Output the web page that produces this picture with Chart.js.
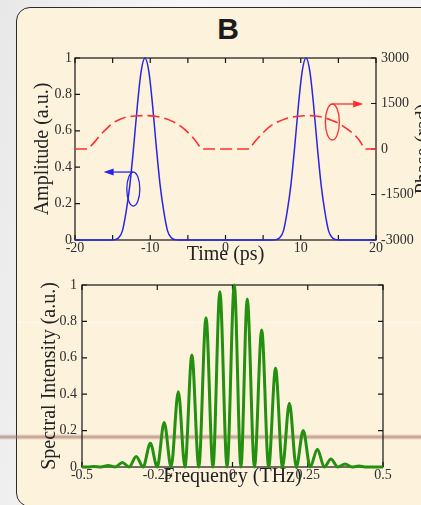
<!DOCTYPE html>
<html>
<head>
<meta charset="utf-8">
<script src="https://cdn.jsdelivr.net/npm/chart.js@4.4.0/dist/chart.umd.min.js"></script>
<style>
  html, body { margin: 0; padding: 0; }
  body { width: 421px; height: 505px; overflow: hidden; position: relative;
    background: linear-gradient(100deg, #e8e8e8 0%, #f6f6f6 35%, #f2f2f2 100%); }
  #panel { position: absolute; left: 16px; top: 7px; width: 440px; height: 500px; box-sizing: border-box;
    border: 1.5px solid #2b2b2b; border-radius: 14px; background: #fdf3dd; }
  .streak { position: absolute; width: 421px; }
  #streak1 { left: 0; top: 434px; height: 6px;
    background: linear-gradient(to bottom, rgba(170,120,110,0), rgba(155,105,95,.65) 50%, rgba(170,120,110,0)); }
  #streak2 { left: 17px; top: 322px; height: 1px; background: rgba(255,255,255,.5); }
  #title { position: absolute; left: 178px; top: 14px; width: 100px; text-align: center;
    font: bold 30px/30px "Liberation Sans", Arial, sans-serif; color: #1b1b1b; }
  #phaseLabel { position: absolute; left: 362px; top: 137px; width: 120px; height: 24px; text-align: center;
    font: 20px/24px "Liberation Serif", serif; color: #222; transform: rotate(-90deg); white-space: nowrap; }
  canvas { position: absolute; left: 0; }
  #timeChart { top: 0; }
  #specChart { top: 265px; }
</style>
</head>
<body>
<div id="panel"></div>
<div class="streak" id="streak1"></div>
<div class="streak" id="streak2"></div>
<div id="title">B</div>
<canvas id="timeChart" width="421" height="270"></canvas>
<canvas id="specChart" width="421" height="240"></canvas>
<div id="phaseLabel">Phase (rad)</div>
<script>
// pulse amplitude vs time
const timePs = [-20, -15.7, -15.2, -14.7, -14.2, -13.7, -13.2, -12.7, -12.2, -11.7, -11.2, -10.7, -10.2, -9.7, -9.2, -8.7, -8.2, -7.7, -7.2, -6.7, -6.2, -5.7,
  5.7, 6.2, 6.7, 7.2, 7.7, 8.2, 8.7, 9.2, 9.7, 10.2, 10.7, 11.2, 11.7, 12.2, 12.7, 13.2, 13.7, 14.2, 14.7, 15.2, 15.7, 20];
const amplitude = [0, 0, 0, 0.002, 0.012, 0.05, 0.157, 0.306, 0.514, 0.744, 0.929, 1, 0.929, 0.744, 0.514, 0.306, 0.157, 0.05, 0.012, 0.002, 0, 0,
  0, 0, 0.002, 0.012, 0.05, 0.157, 0.306, 0.514, 0.744, 0.929, 1, 0.929, 0.744, 0.514, 0.306, 0.157, 0.05, 0.012, 0.002, 0, 0, 0];

// phase (right axis)
const phaseTimePs = [-20, -18.3, -18, -17.3, -16.7, -16, -15, -14, -13, -12, -10.7, -9.5, -8.5, -7.5, -6.5, -5.5, -4.5, -3.8, -3.5, -3.2,
  3.2, 3.5, 4, 5, 6, 7, 8, 9, 10, 11, 12, 13, 14, 15, 16, 17, 17.8, 18.2, 18.5, 20];
const phaseRad = [0, 0, 70, 260, 450, 620, 850, 980, 1060, 1090, 1100, 1085, 1040, 960, 840, 660, 420, 210, 100, 0,
  0, 110, 270, 540, 760, 900, 1000, 1060, 1090, 1100, 1090, 1040, 960, 850, 690, 500, 280, 120, 0, 0];

const timeTicks = [-20, -10, 0, 10, 20];
const timeTickMarks = [-20, -15, -10, -5, 0, 5, 10, 15, 20];
const ampTicks = [0, 0.2, 0.4, 0.6, 0.8, 1];
const phaseTicks = [-3000, -1500, 0, 1500, 3000];

// spectrum
const freqTHz = [-0.5, -0.483, -0.46, -0.437, -0.413, -0.39, -0.366, -0.343, -0.32, -0.297, -0.273, -0.25, -0.227, -0.204,
  -0.18, -0.158, -0.135, -0.112, -0.088, -0.065, -0.042, -0.018, 0.006, 0.028, 0.049, 0.073, 0.097, 0.12, 0.143, 0.166,
  0.189, 0.212, 0.235, 0.258, 0.282, 0.305, 0.327, 0.35, 0.374, 0.397, 0.42, 0.443, 0.466, 0.5];
const intensity = [0, 0, 0.003, 0, 0.008, 0, 0.025, 0, 0.058, 0, 0.13, 0, 0.245, 0,
  0.414, 0, 0.615, 0, 0.82, 0, 0.963, 0, 1.0, 0, 0.923, 0, 0.753, 0, 0.542, 0,
  0.35, 0, 0.2, 0, 0.098, 0, 0.044, 0, 0.016, 0, 0.006, 0, 0, 0];
const freqTicks = [-0.5, -0.25, 0, 0.25, 0.5];
const intensityTicks = [0, 0.2, 0.4, 0.6, 0.8, 1];

const BLUE = '#2626e6', RED = '#ff2e2e', GREEN = '#23900f';
const serif = '"Liberation Serif", "Times New Roman", serif';
const tickFont = { family: serif, size: 14 };
const titleFont = { family: serif, size: 20 };

const pts = (xs, ys) => xs.map((x, i) => ({ x, y: ys[i] }));
const fixTicks = vals => s => { s.ticks = vals.map(v => ({ value: v })); };

// matlab-like box with inward ticks
const frame = {
  id: 'frame',
  beforeDatasetsDraw(chart, args, o) {
    const { ctx, chartArea: a, scales } = chart;
    const len = 5;
    ctx.save();
    ctx.strokeStyle = '#151515';
    ctx.lineWidth = 1.2;
    ctx.strokeRect(a.left, a.top, a.right - a.left, a.bottom - a.top);
    ctx.beginPath();
    o.xMarks.forEach(v => {
      const px = scales.x.getPixelForValue(v);
      ctx.moveTo(px, a.bottom); ctx.lineTo(px, a.bottom - len);
      ctx.moveTo(px, a.top); ctx.lineTo(px, a.top + len);
    });
    o.leftMarks.forEach(v => {
      const py = scales[o.leftAxis].getPixelForValue(v);
      ctx.moveTo(a.left, py); ctx.lineTo(a.left + len, py);
    });
    o.rightMarks.forEach(v => {
      const py = scales[o.rightAxis].getPixelForValue(v);
      ctx.moveTo(a.right, py); ctx.lineTo(a.right - len, py);
    });
    ctx.stroke();
    ctx.restore();
  }
};

// ellipse + arrow pointing at the axis a curve belongs to
const callouts = {
  id: 'callouts',
  afterDatasetsDraw(chart, args, o) {
    const { ctx, scales } = chart;
    (o.items || []).forEach(c => {
      const cx = scales.x.getPixelForValue(c.x);
      const cy = scales[c.axis].getPixelForValue(c.y);
      const tip = scales.x.getPixelForValue(c.tipX);
      const y0 = cy - c.ry;
      const dir = tip < cx ? -1 : 1;
      ctx.save();
      ctx.strokeStyle = c.color; ctx.fillStyle = c.color; ctx.lineWidth = 1.3;
      ctx.beginPath();
      ctx.ellipse(cx, cy, c.rx, c.ry, 0, 0, Math.PI * 2);
      ctx.stroke();
      ctx.beginPath();
      ctx.moveTo(cx, y0); ctx.lineTo(tip - dir * 8, y0);
      ctx.stroke();
      ctx.beginPath();
      ctx.moveTo(tip, y0); ctx.lineTo(tip - dir * 10, y0 - 3.5); ctx.lineTo(tip - dir * 10, y0 + 3.5);
      ctx.closePath(); ctx.fill();
      ctx.restore();
    });
  }
};

function axis(extra) {
  return Object.assign({
    type: 'linear',
    grid: { display: false, drawTicks: false },
    border: { display: false },
    ticks: { font: tickFont, color: '#2e2e2e', padding: 0, maxRotation: 0, autoSkip: false, callback: v => String(v) }
  }, extra);
}

const base = {
  responsive: false, animation: false, events: [],
  elements: { point: { radius: 0 } }
};

new Chart(document.getElementById('timeChart'), {
  type: 'line',
  data: { datasets: [
    { data: pts(phaseTimePs, phaseRad), yAxisID: 'y2', borderColor: RED, borderWidth: 1.6, borderDash: [12, 5],
      cubicInterpolationMode: 'monotone', clip: false },
    { data: pts(timePs, amplitude), yAxisID: 'y', borderColor: BLUE, borderWidth: 1.5,
      cubicInterpolationMode: 'monotone', clip: false }
  ]},
  options: Object.assign({}, base, {
    layout: { padding: { top: 58, right: 0, bottom: 3, left: 0 } },
    plugins: {
      legend: { display: false }, tooltip: { enabled: false },
      frame: { xMarks: timeTickMarks, leftAxis: 'y', leftMarks: ampTicks, rightAxis: 'y2', rightMarks: phaseTicks },
      callouts: { items: [
        { x: -12.25, y: 0.28, axis: 'y', rx: 6.5, ry: 17, tipX: -16.2, color: BLUE },
        { x: 14.2, y: 890, axis: 'y2', rx: 7, ry: 18, tipX: 18.3, color: RED }
      ] }
    },
    scales: {
      x: axis({ min: -20, max: 20, afterBuildTicks: fixTicks(timeTicks), afterFit: s => { s.height = 27; },
        title: { display: true, text: 'Time (ps)', font: titleFont, color: '#222', padding: 0 } }),
      y: axis({ position: 'left', min: 0, max: 1, afterBuildTicks: fixTicks(ampTicks), afterFit: s => { s.width = 75; },
        ticks: Object.assign({}, axis({}).ticks, { padding: 3 }),
        title: { display: true, text: 'Amplitude (a.u.)', font: titleFont, color: '#222', padding: { top: 31, bottom: 0 } } }),
      y2: axis({ position: 'right', min: -3000, max: 3000, afterBuildTicks: fixTicks(phaseTicks), afterFit: s => { s.width = 45; },
        ticks: Object.assign({}, axis({}).ticks, { padding: 5 }) })
    }
  }),
  plugins: [frame, callouts]
});

new Chart(document.getElementById('specChart'), {
  type: 'line',
  data: { datasets: [
    { data: pts(freqTHz, intensity), borderColor: GREEN, borderWidth: 3, borderJoinStyle: 'round',
      cubicInterpolationMode: 'monotone', clip: false }
  ]},
  options: Object.assign({}, base, {
    layout: { padding: { top: 20, right: 38, bottom: 16, left: 0 } },
    plugins: {
      legend: { display: false }, tooltip: { enabled: false },
      frame: { xMarks: freqTicks, leftAxis: 'y', leftMarks: intensityTicks, rightAxis: 'y', rightMarks: intensityTicks }
    },
    scales: {
      x: axis({ min: -0.5, max: 0.5, afterBuildTicks: fixTicks(freqTicks), afterFit: s => { s.height = 22; },
        title: { display: true, text: 'Frequency (THz)', font: titleFont, color: '#222', padding: 0 } }),
      y: axis({ position: 'left', min: 0, max: 1, afterBuildTicks: fixTicks(intensityTicks), afterFit: s => { s.width = 82; },
        ticks: Object.assign({}, axis({}).ticks, { padding: 5 }),
        title: { display: true, text: 'Spectral Intensity (a.u.)', font: titleFont, color: '#222', padding: { top: 38, bottom: 0 } } })
    }
  }),
  plugins: [frame]
});
</script>
</body>
</html>
